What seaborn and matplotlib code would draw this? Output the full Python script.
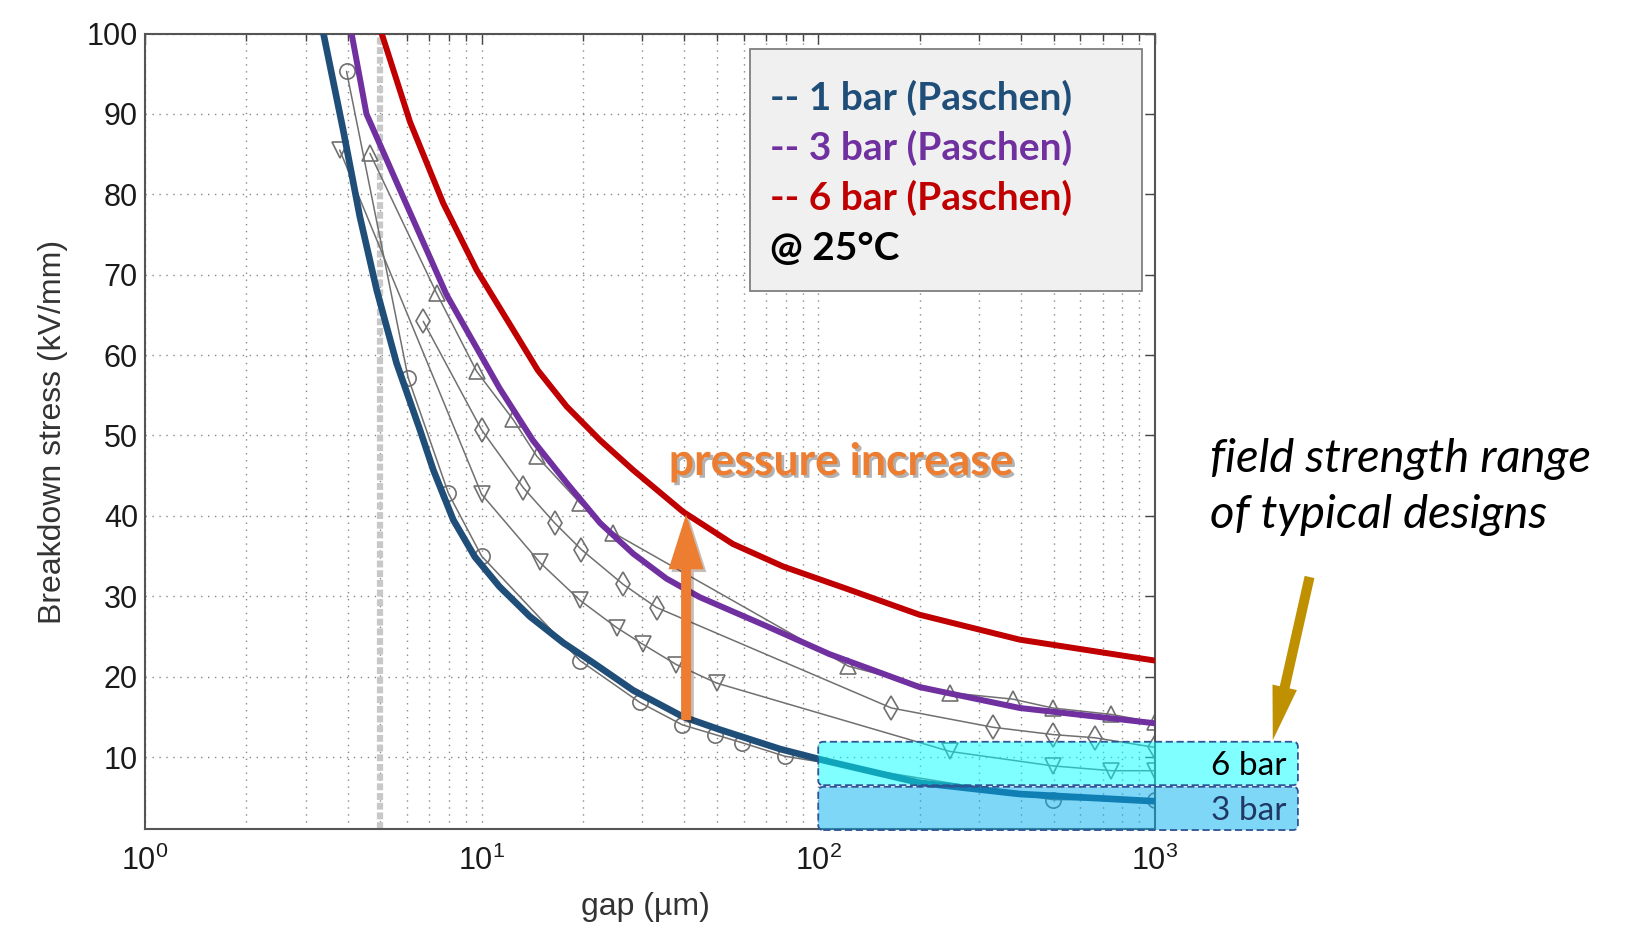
import numpy as np
import matplotlib
matplotlib.use('Agg')
import matplotlib.pyplot as plt
import matplotlib.patheffects as pe
from matplotlib.patches import Rectangle, FancyBboxPatch
from matplotlib.ticker import LogLocator, NullFormatter
import seaborn as sns

# Paschen curves (gap in um, breakdown stress in kV/mm)
gap_1bar = [3.39, 3.88, 4.35, 4.88, 5.59, 6.56, 7.19, 8.24, 9.55, 11.3, 13.9, 17.5, 21.5, 28.2, 39.7, 51.1,
            77, 106, 200, 397, 1000]
kv_1bar = [100, 88, 77.2, 68.1, 59.0, 50.7, 45.7, 39.5, 34.9, 31.2, 27.5, 24.2, 21.7, 18.3, 15.0, 13.4,
           11.0, 9.5, 6.8, 5.4, 4.5]
gap_3bar = [4.11, 4.55, 5.8, 7.87, 11.3, 14.2, 17.9, 22.5, 28.2, 35.4, 44.4, 70.1, 108, 200, 397, 1000]
kv_3bar = [100, 90, 80, 67.5, 55.9, 49.4, 44.1, 39.1, 35.3, 32.2, 29.9, 26.3, 22.8, 18.7, 16.1, 14.2]
gap_6bar = [5.05, 6.13, 7.69, 9.66, 12.1, 14.7, 17.9, 22.5, 28.2, 39.7, 55.8, 78.7, 124, 200, 397, 1000]
kv_6bar = [100, 89.0, 78.9, 70.6, 63.9, 58.1, 53.6, 49.4, 45.7, 40.5, 36.5, 33.7, 30.8, 27.7, 24.6, 22.0]

# measured data from the underlying (grey) figure
meas_o_x = [3.97, 6.05, 7.97, 10.0, 19.6, 29.5, 39.5, 49.3, 59.2, 79.6, 497, 1000]
meas_o_y = [95.3, 57.2, 42.8, 35.0, 22.0, 16.8, 14.0, 12.8, 11.8, 10.1, 4.7, 4.7]
meas_v_x = [3.79, 10.0, 14.9, 19.6, 25.2, 30.2, 37.9, 49.9, 246, 497, 743, 1000]
meas_v_y = [85.5, 42.7, 34.2, 29.5, 26.1, 24.0, 21.5, 19.2, 10.7, 8.9, 8.3, 8.3]
meas_d_x = [6.71, 10.0, 13.3, 16.5, 19.8, 26.3, 33.1, 165, 331, 497, 662, 1000]
meas_d_y = [64.2, 50.7, 43.5, 39.1, 35.8, 31.5, 28.6, 16.1, 13.7, 12.8, 12.4, 11.2]
meas_t_x = [4.66, 7.35, 9.66, 12.4, 14.6, 19.6, 24.6, 123, 246, 379, 497, 743, 1000]
meas_t_y = [85.1, 67.7, 58.0, 52.0, 47.4, 41.6, 37.9, 21.3, 18.0, 17.2, 16.1, 15.3, 14.3]
limit_gap = 5

# field strength ranges of typical designs
range_gap = [100, 2660]
range_6bar = [6.5, 11.9]
range_3bar = [0.92, 6.3]

legend_lines = ['-- 1 bar (Paschen)', '-- 3 bar (Paschen)', '-- 6 bar (Paschen)', '@ 25°C']
legend_colors = ['#1F4E79', '#7030A0', '#C00000', '#000000']

sns.set_style('white')
plt.rcParams['font.family'] = ['Liberation Sans', 'DejaVu Sans']

fig = plt.figure(figsize=(16.47, 9.34), dpi=100)
ax = fig.add_axes([0.0880, 0.1120, 0.6132, 0.8521])

# grey measured series
grey = '#707070'
for xs, ys, mk, ms in [(meas_o_x, meas_o_y, 'o', 11), (meas_v_x, meas_v_y, 'v', 12),
                       (meas_d_x, meas_d_y, 'd', 12), (meas_t_x, meas_t_y, '^', 12)]:
    sns.lineplot(x=xs, y=ys, ax=ax, color=grey, lw=1.1, marker=mk, markersize=ms,
                 markerfacecolor='none', markeredgecolor=grey, markeredgewidth=1.2, zorder=2)
ax.axvline(limit_gap, color='#c8c8c8', lw=4.5, ls=(0, (1.1, 0.45)), zorder=1.5)

# Paschen curves
sns.lineplot(x=gap_1bar, y=kv_1bar, ax=ax, color='#1F4E79', lw=4.8, zorder=3)
sns.lineplot(x=gap_3bar, y=kv_3bar, ax=ax, color='#7030A0', lw=4.3, zorder=3)
sns.lineplot(x=gap_6bar, y=kv_6bar, ax=ax, color='#C00000', lw=4.3, zorder=3)

ax.set_xscale('log')
ax.set_xlim(1, 1000)
ax.set_ylim(1, 100)
ax.set_yticks(np.arange(10, 101, 10))
ax.xaxis.set_minor_locator(LogLocator(base=10, subs=np.arange(2, 10)))
ax.xaxis.set_minor_formatter(NullFormatter())
ax.grid(True, which='both', axis='x', color='#888888', ls=(0, (1, 4)), lw=1.0)
ax.grid(True, which='major', axis='y', color='#888888', ls=(0, (1, 4)), lw=1.0)
ax.set_axisbelow(True)
ax.tick_params(which='both', direction='in', top=True, right=True, color='#444444',
               labelsize=22, labelcolor='#1a1a1a')
ax.tick_params(which='major', length=7, width=1)
ax.tick_params(which='minor', length=5, width=1)
ax.tick_params(axis='x', pad=12)
ax.tick_params(axis='y', pad=5)
for sp in ax.spines.values():
    sp.set_color('#555555')
    sp.set_linewidth(1.5)

ax.set_xlabel('gap (µm)', fontsize=23, color='#333333')
ax.set_ylabel('Breakdown stress (kV/mm)', fontsize=23, color='#333333')
ax.xaxis.set_label_coords(0.496, -0.079)
ax.yaxis.set_label_coords(-0.076, 0.5)

# design ranges, drawn in axes fraction so the corners stay round
to_axes = ax.transData + ax.transAxes.inverted()
aspect = (0.6132 * 16.47) / (0.8521 * 9.34)
for ys, fc in [(range_6bar, '#00FFFF'), (range_3bar, '#00B0F0')]:
    (x0, y0), (x1, y1) = to_axes.transform([(range_gap[0], ys[0]), (range_gap[1], ys[1])])
    ax.add_patch(FancyBboxPatch((x0, y0), x1 - x0, y1 - y0, transform=ax.transAxes,
                                boxstyle='round,pad=0,rounding_size=0.005', mutation_aspect=aspect,
                                fc=fc, alpha=0.5, ec='none', clip_on=False, zorder=4))
    ax.add_patch(FancyBboxPatch((x0, y0), x1 - x0, y1 - y0, transform=ax.transAxes,
                                boxstyle='round,pad=0,rounding_size=0.005', mutation_aspect=aspect,
                                fc='none', ec='#2F5597', lw=1.3, ls=(0, (4, 2)), clip_on=False, zorder=4))
ax.text(1.1307, 0.0684, '6 bar', transform=ax.transAxes, ha='right', va='baseline',
        fontsize=24, family='Lato', color='black', zorder=6)
ax.text(1.1307, 0.0118, '3 bar', transform=ax.transAxes, ha='right', va='baseline',
        fontsize=24, family='Lato', color='#203864', zorder=6)

# legend box
ax.add_patch(Rectangle((0.599, 0.676), 0.3878, 0.304, transform=ax.transAxes,
                       fc='#f0f0f0', ec='#7f7f7f', lw=1.3, zorder=5))
for i, (t, c) in enumerate(zip(legend_lines, legend_colors)):
    ax.text(0.619, 0.904 - i * 0.0628, t, transform=ax.transAxes, ha='left', va='baseline',
            fontsize=28, family='Lato', weight='bold', color=c, zorder=6)

# pressure increase arrow
ax.annotate('', xy=(40.5, 40.2), xytext=(40.5, 14.6),
            arrowprops=dict(arrowstyle='simple,head_length=3.96,head_width=2.52,tail_width=0.72',
                            fc='#ED7D31', ec='none', shrinkA=0, shrinkB=0, mutation_scale=10,
                            path_effects=[pe.SimplePatchShadow(offset=(2, -2), alpha=0.3), pe.Normal()]),
            zorder=6)
ax.text(0.6896, 0.4453, 'pressure increase', transform=ax.transAxes, ha='center', va='baseline',
        fontsize=32, family='Lato', weight='bold', color='#ED7D31', zorder=6,
        path_effects=[pe.withSimplePatchShadow(offset=(2, -2), shadow_rgbFace='#808080', alpha=0.6)])

# field strength note
ax.text(1.0545, 0.4494, 'field strength range', transform=ax.transAxes, ha='left', va='baseline',
        fontsize=34, family='Lato', style='italic', color='black')
ax.text(1.0545, 0.3783, 'of typical designs', transform=ax.transAxes, ha='left', va='baseline',
        fontsize=34, family='Lato', style='italic', color='black')
ax.annotate('', xy=(2240, 12.1), xytext=(2880, 32.4), annotation_clip=False,
            arrowprops=dict(arrowstyle='simple,head_length=3.9,head_width=1.8,tail_width=0.72',
                            fc='#BF9000', ec='none', shrinkA=0, shrinkB=0, mutation_scale=10))

fig.savefig('out.png', dpi=100)
